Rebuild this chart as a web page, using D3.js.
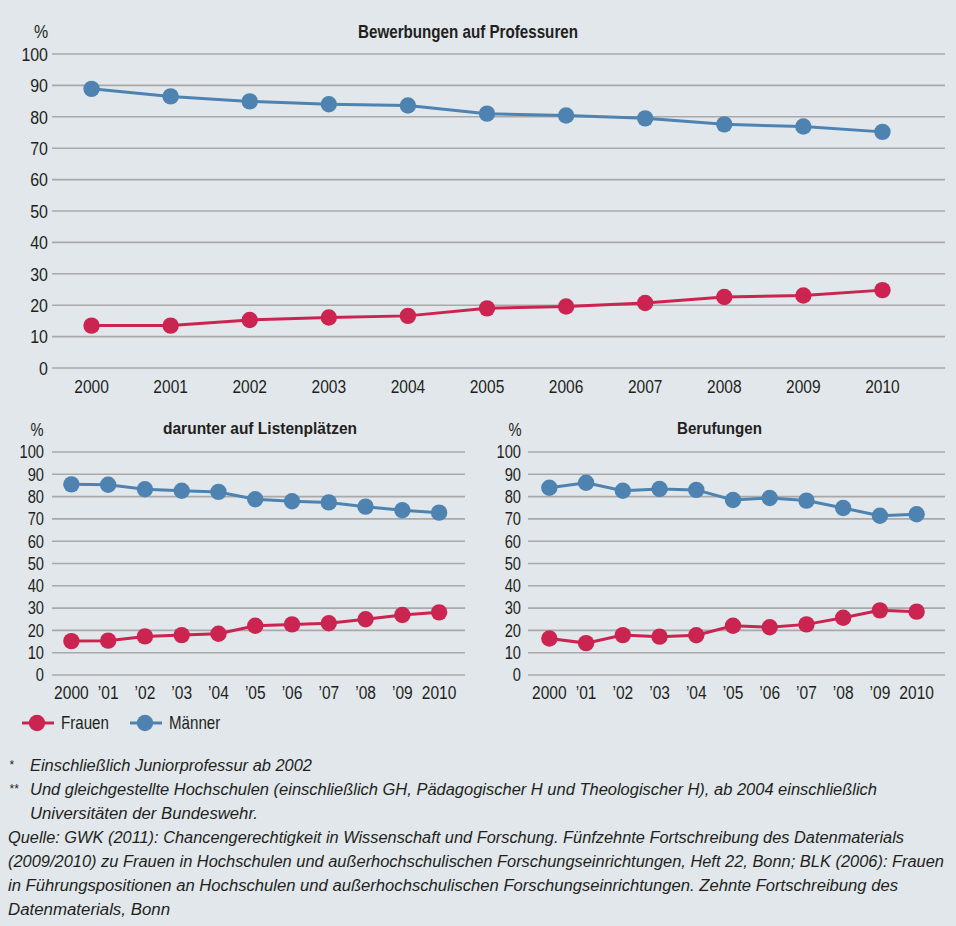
<!DOCTYPE html>
<html><head><meta charset="utf-8">
<script src="https://cdn.jsdelivr.net/npm/d3@7"></script>
<style>
html,body{margin:0;padding:0;background:#e1e7eb;}
svg{display:block;font-family:"Liberation Sans",Arial,sans-serif;}
</style></head>
<body>
<svg id="chart" width="956" height="926"></svg>
<script>
// ---------- DATA ----------
const yearsTop = ["2000","2001","2002","2003","2004","2005","2006","2007","2008","2009","2010"];
const yearsShort = ["2000","’01","’02","’03","’04","’05","’06","’07","’08","’09","2010"];
const yTicks = [0,10,20,30,40,50,60,70,80,90,100];

const bewerbungenFrauen = [13.5,13.5,15.3,16.1,16.6,19.0,19.6,20.7,22.6,23.1,24.8];
const bewerbungenMaenner = [88.9,86.5,84.9,84.0,83.6,81.0,80.4,79.5,77.6,76.9,75.2];

const listenFrauen = [15.2,15.4,17.3,17.9,18.5,22.1,22.7,23.2,25.0,26.9,28.1];
const listenMaenner = [85.5,85.3,83.3,82.6,82.1,78.8,77.9,77.4,75.5,73.9,72.8];

const berufungenFrauen = [16.4,14.3,17.9,17.2,17.8,22.1,21.4,22.7,25.7,29.0,28.4];
const berufungenMaenner = [84.0,86.2,82.6,83.4,83.0,78.5,79.4,78.2,74.9,71.4,72.1];

const seriesNames = ["Frauen","Männer"];
const titles = ["Bewerbungen auf Professuren","darunter auf Listenplätzen","Berufungen"];

const footnotes = [
  "Einschließlich Juniorprofessur ab 2002",
  "Und gleichgestellte Hochschulen (einschließlich GH, Pädagogischer H und Theologischer H), ab 2004 einschließlich",
  "Universitäten der Bundeswehr.",
  "Quelle: GWK (2011): Chancengerechtigkeit in Wissenschaft und Forschung. Fünfzehnte Fortschreibung des Datenmaterials",
  "(2009/2010) zu Frauen in Hochschulen und außerhochschulischen Forschungseinrichtungen, Heft 22, Bonn; BLK (2006): Frauen",
  "in Führungspositionen an Hochschulen und außerhochschulischen Forschungseinrichtungen. Zehnte Fortschreibung des",
  "Datenmaterials, Bonn"
];
const footMarks = ["*","**","","","","",""];

// ---------- STYLE / LAYOUT ----------
const colors = {Frauen:"#cb2450", "Männer":"#4e83b1"};
const gridColor = "#a9a9a9";
const textColor = "#231f20";
const condense = 0.84;
const svg = d3.select("#chart");

function ctext(sel, x, y, size, anchor){
  return sel.append("text")
    .attr("transform",`translate(${x},${y}) scale(${condense},1)`)
    .attr("text-anchor",anchor).attr("font-size",size).attr("fill",textColor);
}

function panel(cfg){
  const g = svg.append("g");
  const x = d3.scalePoint().domain(cfg.cats).range(cfg.xRange).padding(0.5);
  const y = d3.scaleLinear().domain([0,100]).range(cfg.yRange);

  g.append("g").selectAll("line").data(yTicks).join("line")
    .attr("x1",cfg.gridX[0]).attr("x2",cfg.gridX[1])
    .attr("y1",d=>y(d)).attr("y2",d=>y(d))
    .attr("stroke",gridColor).attr("stroke-width",1.6);

  yTicks.forEach(t=>{
    ctext(g, cfg.yLabelX, y(t)+cfg.yTickSize*0.36, cfg.yTickSize, "end").text(t);
  });
  ctext(g, cfg.pctX, y(100)-cfg.pctDy, cfg.yTickSize, "middle").text("%");

  cfg.cats.forEach((c,i)=>{
    ctext(g, x(c), cfg.xLabelY, cfg.xTickSize, "middle").text(cfg.labels[i]);
  });

  g.append("text").attr("x",cfg.titleX).attr("y",cfg.titleY)
    .attr("text-anchor","middle").attr("font-size",cfg.titleSize).attr("font-weight","bold")
    .attr("fill",textColor).attr("textLength",cfg.titleW).attr("lengthAdjust","spacingAndGlyphs")
    .text(cfg.title);

  const line = d3.line().x((d,i)=>x(cfg.cats[i])).y(d=>y(d));
  [["Männer",cfg.m],["Frauen",cfg.f]].forEach(([name,vals])=>{
    g.append("path").datum(vals).attr("d",line).attr("fill","none")
      .attr("stroke",colors[name]).attr("stroke-width",3);
    g.append("g").selectAll("circle").data(vals).join("circle")
      .attr("cx",(d,i)=>x(cfg.cats[i])).attr("cy",d=>y(d)).attr("r",8.2)
      .attr("fill",colors[name]);
  });
}

panel({cats:yearsTop, labels:yearsTop, xRange:[52,922], yRange:[368,54], gridX:[52,945],
  yLabelX:48, pctX:41, pctDy:16, yTickSize:19, xTickSize:18.5, xLabelY:393,
  title:titles[0], titleX:468, titleY:38, titleW:220, titleSize:18,
  f:bewerbungenFrauen, m:bewerbungenMaenner});

panel({cats:yearsTop, labels:yearsShort, xRange:[53,457.5], yRange:[675,452], gridX:[52,465],
  yLabelX:44, pctX:37, pctDy:16, yTickSize:17.5, xTickSize:18.5, xLabelY:699,
  title:titles[1], titleX:260, titleY:434, titleW:194, titleSize:16.5,
  f:listenFrauen, m:listenMaenner});

panel({cats:yearsTop, labels:yearsShort, xRange:[531,935], yRange:[675,452], gridX:[528,945],
  yLabelX:521, pctX:515, pctDy:16, yTickSize:17.5, xTickSize:18.5, xLabelY:699,
  title:titles[2], titleX:719.5, titleY:434, titleW:85, titleSize:16.5,
  f:berufungenFrauen, m:berufungenMaenner});

// legend
const legend = svg.append("g").attr("transform","translate(0,723)");
const legX = [22,130];
seriesNames.forEach((n,i)=>{
  const lg = legend.append("g").attr("transform",`translate(${legX[i]},0)`);
  lg.append("line").attr("x1",0).attr("x2",32).attr("y1",0).attr("y2",0)
    .attr("stroke",colors[n]).attr("stroke-width",3);
  lg.append("circle").attr("cx",15).attr("cy",0).attr("r",8.2).attr("fill",colors[n]);
  ctext(lg, 39, 6.3, 18, "start").text(n);
});

// footnotes
const footX = [30,30,30,8,8,8,8];
const footW = [282,847,228,896,936,890,162];
const foot = svg.append("g").attr("font-style","italic").attr("font-size",16).attr("fill",textColor);
footnotes.forEach((t,i)=>{
  const yy = 771 + i*24;
  if(footMarks[i]) foot.append("text").attr("x",9).attr("y",yy-2).attr("font-size",12).text(footMarks[i]);
  foot.append("text").attr("x",footX[i]).attr("y",yy)
    .attr("textLength",footW[i]).attr("lengthAdjust","spacingAndGlyphs").text(t);
});
</script>
</body></html>
